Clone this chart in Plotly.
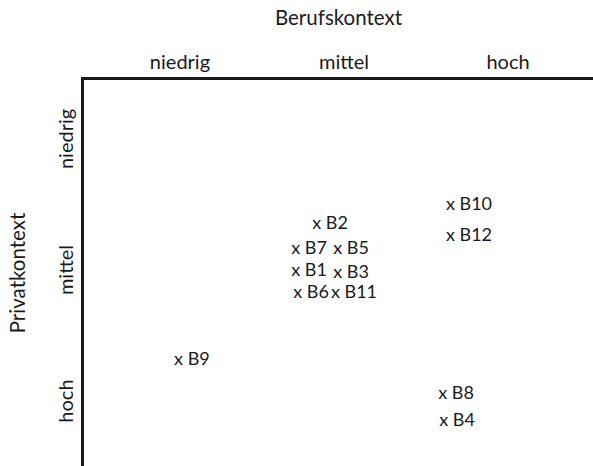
import plotly.graph_objects as go

# Category labels for both dimensions
levels = ["niedrig", "mittel", "hoch"]
level_pos = [0.5, 1.5, 2.5]

# Cases placed by Berufskontext (x) and Privatkontext (y)
cases = ["B2", "B7", "B5", "B1", "B3", "B6", "B11", "B10", "B12", "B9", "B8", "B4"]
beruf = [1.415, 1.287, 1.543, 1.287, 1.543, 1.299, 1.561, 2.262, 2.262, 0.573, 2.183, 2.189]
privat = [1.133, 1.324, 1.324, 1.492, 1.500, 1.660, 1.660, 0.988, 1.218, 2.164, 2.431, 2.637]

FONT = "Lato, 'Noto Sans', sans-serif"
INK = "#1a1a1a"

fig = go.Figure(
    go.Scatter(
        x=beruf,
        y=privat,
        mode="text",
        text=["x " + c for c in cases],
        textposition="middle center",
        textfont=dict(family=FONT, size=18, color=INK),
        hoverinfo="skip",
    )
)

fig.update_layout(
    width=593,
    height=466,
    margin=dict(l=84, r=0, t=80, b=0),
    paper_bgcolor="white",
    plot_bgcolor="white",
    showlegend=False,
    font=dict(family=FONT, color=INK),
)

fig.update_xaxes(
    side="top",
    range=[-0.085, 3.018],
    tickvals=level_pos,
    ticktext=levels,
    ticks="",
    tickfont=dict(size=20),
    showgrid=False,
    zeroline=False,
    showline=True,
    linewidth=3,
    linecolor=INK,
    title=dict(text="Berufskontext", font=dict(size=20.5), standoff=18),
)

fig.update_yaxes(
    range=[2.973, 0.027],
    tickvals=level_pos,
    ticktext=levels,
    ticks="",
    tickangle=-90,
    tickfont=dict(size=20),
    showgrid=False,
    zeroline=False,
    showline=True,
    linewidth=3,
    linecolor=INK,
    title=dict(text="Privatkontext", font=dict(size=20.5), standoff=22),
)

fig.write_html("out.html")
